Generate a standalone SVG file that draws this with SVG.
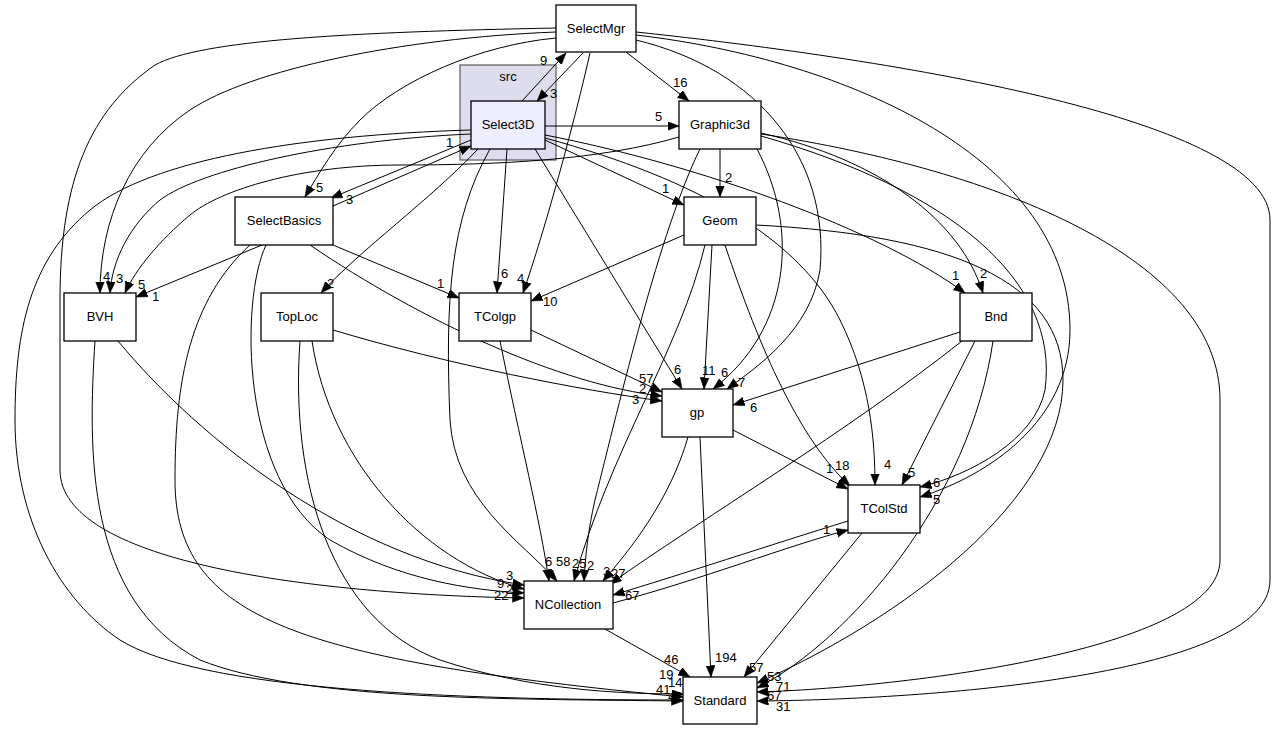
<svg xmlns="http://www.w3.org/2000/svg" width="1278" height="731" viewBox="0 0 1278 731">
<style>
.bg{fill:#fff}
.node rect{fill:#fff;stroke:#000;stroke-width:1.3}
.node text{font-family:"Liberation Sans",Arial,sans-serif;font-size:13px;text-anchor:middle;fill:#000}
.cl{fill:#ddddee;stroke:#666;stroke-width:1.3}
.cltext{font-family:"Liberation Sans",Arial,sans-serif;font-size:13px;text-anchor:middle;fill:#000}
#edges path{fill:none;stroke:#000;stroke-width:1;marker-end:url(#ah)}
#labels text{font-family:"Liberation Sans",Arial,sans-serif;font-size:13px;fill:#000}
</style>
<defs>
<marker id="ah" markerUnits="userSpaceOnUse" markerWidth="13" markerHeight="10" refX="11.5" refY="4.5" orient="auto">
<path d="M0,0 L11.5,4.5 L0,9 z" fill="#000" stroke="#000" stroke-width="0.5"/>
</marker>
</defs>
<rect class="bg" x="0" y="0" width="1278" height="731"/>
<g id="cluster_src">
<rect class="cl" x="460" y="65" width="96" height="95"/>
<text class="cltext" x="508" y="81">src</text>
</g>
<g id="edges">
<path d="M626,52 L689,101"/>
<path d="M583,53 L537,101"/>
<path d="M522,101 L566,53"/>
<path d="M545,126 L679,126"/>
<path d="M590,53 C575,120 545,230 523,293"/>
<path d="M556,28 C350,32 200,40 155,65 C90,110 60,180 60,300 L60,470 C60,560 300,594 524,598"/>
<path d="M556,32 C400,38 250,70 190,110 C130,150 100,220 100,293"/>
<path d="M556,38 C480,45 400,80 360,120 C335,145 318,175 305,197"/>
<path d="M471,130 C300,135 150,160 90,210 C30,260 15,330 15,420 C15,520 60,600 120,640 C200,690 450,700 683,700"/>
<path d="M471,134 C330,140 200,170 160,200 C130,225 112,260 110,293"/>
<path d="M679,137 C600,160 500,165 400,165 C300,165 220,190 190,215 C160,240 135,270 125,293"/>
<path d="M471,140 L331,198"/>
<path d="M333,206 L471,146"/>
<path d="M478,149 C430,200 360,250 321,293"/>
<path d="M490,149 C450,220 445,300 450,420 C455,500 520,540 557,581"/>
<path d="M507,149 L497,293"/>
<path d="M535,149 L682,389"/>
<path d="M545,140 L684,205"/>
<path d="M545,135 C700,165 880,230 965,293"/>
<path d="M545,138 C700,180 800,240 840,320 C870,380 875,440 875,485"/>
<path d="M720,149 L720,197"/>
<path d="M700,149 C660,230 620,400 595,500 C588,530 585,560 584,581"/>
<path d="M757,149 C800,230 790,330 713,389"/>
<path d="M761,133 C880,160 960,220 983,293"/>
<path d="M761,136 C950,190 1060,280 1045,390 C1035,440 970,475 920,487"/>
<path d="M761,134 C1000,170 1220,260 1220,400 L1220,560 C1220,650 900,688 757,692"/>
<path d="M636,32 C900,60 1270,120 1270,220 L1270,580 C1270,680 900,700 757,701"/>
<path d="M636,35 C850,60 1070,160 1070,330 C1070,420 990,475 920,497"/>
<path d="M636,40 C760,70 830,160 820,270 C810,330 760,365 727,389"/>
<path d="M684,235 L531,301"/>
<path d="M712,245 L704,389"/>
<path d="M705,245 C680,350 610,450 574,581"/>
<path d="M725,245 C760,350 800,440 850,486"/>
<path d="M756,225 C950,235 1063,280 1063,380 C1063,500 900,620 757,683"/>
<path d="M960,332 L733,405"/>
<path d="M962,341 C850,430 700,520 610,584"/>
<path d="M975,341 L902,485"/>
<path d="M993,341 C970,500 850,640 757,688"/>
<path d="M531,330 L662,392"/>
<path d="M500,341 C520,440 540,520 549,581"/>
<path d="M333,330 C450,365 580,390 662,401"/>
<path d="M312,341 C330,460 420,560 524,589"/>
<path d="M300,341 C290,480 330,620 440,660 C530,690 620,694 683,694"/>
<path d="M262,245 L136,297"/>
<path d="M333,245 L459,298"/>
<path d="M310,245 C420,320 560,385 662,396"/>
<path d="M266,245 C240,300 240,480 330,540 C400,580 470,590 524,593"/>
<path d="M250,245 C190,300 175,380 175,480 C175,620 300,660 683,697"/>
<path d="M118,341 C200,440 350,560 524,585"/>
<path d="M95,341 C88,450 85,600 200,660 C300,700 500,699 683,701"/>
<path d="M700,437 L711,677"/>
<path d="M688,437 C670,500 630,550 603,581"/>
<path d="M733,430 L848,489"/>
<path d="M605,629 L690,677"/>
<path d="M613,603 C700,580 790,545 848,530"/>
<path d="M848,521 C770,545 680,575 613,595"/>
<path d="M862,533 L744,677"/>
</g>
<g id="labels">
<text x="673" y="87">16</text>
<text x="550" y="98">3</text>
<text x="540" y="65">9</text>
<text x="655" y="121">5</text>
<text x="446" y="147">1</text>
<text x="316" y="192">5</text>
<text x="346" y="204">3</text>
<text x="103" y="281">4</text>
<text x="116" y="283">3</text>
<text x="138" y="289">5</text>
<text x="152" y="301">1</text>
<text x="327" y="288">2</text>
<text x="437" y="288">1</text>
<text x="501" y="278">6</text>
<text x="517" y="283">4</text>
<text x="543" y="306">10</text>
<text x="662" y="193">1</text>
<text x="725" y="182">2</text>
<text x="952" y="280">1</text>
<text x="980" y="278">2</text>
<text x="639" y="383">57</text>
<text x="639" y="393">2</text>
<text x="632" y="404">3</text>
<text x="674" y="374">6</text>
<text x="702" y="375">11</text>
<text x="721" y="377">6</text>
<text x="738" y="387">7</text>
<text x="750" y="412">6</text>
<text x="826" y="473">1</text>
<text x="835" y="470">18</text>
<text x="884" y="469">4</text>
<text x="908" y="477">5</text>
<text x="933" y="487">6</text>
<text x="933" y="504">5</text>
<text x="823" y="534">1</text>
<text x="506" y="580">3</text>
<text x="497" y="588">9</text>
<text x="506" y="594">2</text>
<text x="494" y="600">22</text>
<text x="545" y="566">6</text>
<text x="556" y="566">58</text>
<text x="572" y="568">25</text>
<text x="587" y="570">2</text>
<text x="603" y="576">3</text>
<text x="611" y="578">27</text>
<text x="625" y="600">67</text>
<text x="664" y="664">46</text>
<text x="715" y="662">194</text>
<text x="749" y="672">57</text>
<text x="659" y="679">19</text>
<text x="668" y="687">14</text>
<text x="656" y="694">41</text>
<text x="668" y="701">42</text>
<text x="767" y="681">53</text>
<text x="776" y="691">71</text>
<text x="767" y="700">67</text>
<text x="776" y="711">31</text>
</g>
<g id="node_SelectMgr" class="node"><rect x="556" y="5" width="80" height="47"/><text x="596" y="33">SelectMgr</text></g>
<g id="node_Select3D" class="node"><rect x="471" y="101" width="74" height="48" style="fill:#eeeeff"/><text x="508" y="129">Select3D</text></g>
<g id="node_Graphic3d" class="node"><rect x="679" y="101" width="82" height="48"/><text x="720" y="129">Graphic3d</text></g>
<g id="node_SelectBasics" class="node"><rect x="235" y="197" width="98" height="48"/><text x="284" y="225">SelectBasics</text></g>
<g id="node_Geom" class="node"><rect x="684" y="197" width="72" height="48"/><text x="720" y="225">Geom</text></g>
<g id="node_BVH" class="node"><rect x="64" y="293" width="72" height="48"/><text x="100" y="321">BVH</text></g>
<g id="node_TopLoc" class="node"><rect x="261" y="293" width="72" height="48"/><text x="297" y="321">TopLoc</text></g>
<g id="node_TColgp" class="node"><rect x="459" y="293" width="72" height="48"/><text x="495" y="321">TColgp</text></g>
<g id="node_Bnd" class="node"><rect x="960" y="293" width="72" height="48"/><text x="996" y="321">Bnd</text></g>
<g id="node_gp" class="node"><rect x="662" y="389" width="71" height="48"/><text x="697" y="417">gp</text></g>
<g id="node_TColStd" class="node"><rect x="848" y="485" width="72" height="48"/><text x="884" y="513">TColStd</text></g>
<g id="node_NCollection" class="node"><rect x="524" y="581" width="89" height="48"/><text x="568" y="609">NCollection</text></g>
<g id="node_Standard" class="node"><rect x="683" y="677" width="74" height="47"/><text x="720" y="705">Standard</text></g>
</svg>
